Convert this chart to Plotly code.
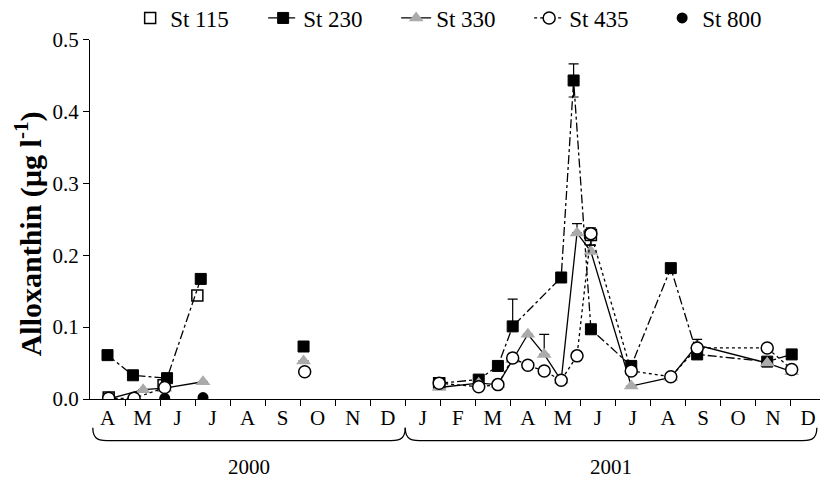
import calendar
import plotly.graph_objects as go

# ---------------- data ----------------
months = ["A", "M", "J", "J", "A", "S", "O", "N", "D",
          "J", "F", "M", "A", "M", "J", "J", "A", "S", "O", "N", "D"]
years = ["2000", "2001"]
y_ticks = [0.0, 0.1, 0.2, 0.3, 0.4, 0.5]
y_ticktext = ["0.0", "0.1", "0.2", "0.3", "0.4", "0.5"]

st115_dates = ["2000-04-17", "2000-06-04", "2000-07-03", "2001-01-31", "2001-06-10"]
st115_vals = [0.002, 0.019, 0.144, 0.022, 0.228]
st115_err_up = [0, 0, 0, 0, 0.008]
st115_err_dn = [0, 0, 0, 0, 0.014]

st230_dates = ["2000-04-16", "2000-05-08", "2000-06-07", "2000-07-06", "2000-10-04",
               "2001-01-31", "2001-03-04", "2001-03-21", "2001-04-03", "2001-05-15",
               "2001-05-26", "2001-06-10", "2001-07-15", "2001-08-19", "2001-09-11",
               "2001-11-11", "2001-12-02"]
st230_vals = [0.061, 0.033, 0.029, 0.167, 0.073,
              0.022, 0.027, 0.046, 0.101, 0.169,
              0.443, 0.097, 0.046, 0.182, 0.062,
              0.052, 0.062]
st230_err_up = [0, 0, 0, 0, 0, 0, 0, 0, 0.038, 0, 0.023, 0, 0, 0, 0, 0, 0]
st230_err_dn = [0, 0, 0, 0, 0, 0, 0, 0, 0, 0, 0.023, 0, 0, 0, 0, 0, 0]

st330_dates = ["2000-04-17", "2000-05-17", "2000-06-05", "2000-07-08", "2000-10-04",
               "2001-01-31", "2001-03-04", "2001-03-21", "2001-04-03", "2001-04-16",
               "2001-04-30", "2001-05-15", "2001-05-29", "2001-06-10", "2001-07-15",
               "2001-08-19", "2001-09-11", "2001-11-11", "2001-12-02"]
st330_vals = [0.000, 0.013, 0.015, 0.024, 0.053,
              0.016, 0.022, 0.020, 0.055, 0.090,
              0.062, 0.026, 0.231, 0.205, 0.018,
              0.030, 0.075, 0.050, 0.038]
st330_err_up = [0, 0, 0, 0, 0, 0, 0, 0, 0, 0, 0.028, 0, 0.013, 0, 0, 0, 0, 0, 0]
st330_err_dn = [0] * 19

st435_dates = ["2000-04-17", "2000-05-09", "2000-06-05", "2000-10-05",
               "2001-01-31", "2001-03-04", "2001-03-21", "2001-04-03", "2001-04-16",
               "2001-04-30", "2001-05-15", "2001-05-29", "2001-06-10", "2001-07-15",
               "2001-08-19", "2001-09-11", "2001-11-11", "2001-12-02"]
st435_vals = [0.001, 0.001, 0.016, 0.038,
              0.022, 0.017, 0.020, 0.057, 0.047,
              0.039, 0.026, 0.060, 0.230, 0.039,
              0.031, 0.071, 0.071, 0.041]
st435_err_up = [0, 0, 0, 0, 0, 0, 0, 0, 0, 0, 0, 0, 0.008, 0, 0, 0.012, 0, 0]
st435_err_dn = [0, 0, 0, 0, 0, 0, 0, 0, 0, 0, 0, 0, 0.016, 0, 0, 0, 0, 0]

st800_dates = ["2000-06-05", "2000-07-08"]
st800_vals = [0.001, 0.002]


# ---------------- helpers ----------------
def month_index(d):
    """Fractional months since 1 April 2000."""
    y, m, day = (int(p) for p in d.split("-"))
    ndays = calendar.monthrange(y, m)[1]
    return (y - 2000) * 12 + (m - 4) + (day - 1) / ndays


def with_breaks(dates, vals, up, dn, gap=2.5):
    xs, ys, us, ds = [], [], [], []
    prev = None
    for d, v, u, w in zip(dates, vals, up, dn):
        x = month_index(d)
        if prev is not None and x - prev > gap:
            xs.append(None); ys.append(None); us.append(0); ds.append(0)
        xs.append(x); ys.append(v); us.append(u); ds.append(w)
        prev = x
    return xs, ys, us, ds


SERIF = "Liberation Serif"
fig = go.Figure()


def add_station(name, dates, vals, up, dn, mode, dash, marker):
    xs, ys, us, ds = with_breaks(dates, vals, up, dn)
    fig.add_trace(go.Scatter(
        x=xs, y=ys, name=name, mode=mode,
        line=dict(color="black", width=1.3, dash=dash),
        marker=marker,
        error_y=dict(type="data", array=us, arrayminus=ds, symmetric=False,
                     color="black", thickness=1.2, width=5),
        connectgaps=False,
    ))


add_station("St 115", st115_dates, st115_vals, st115_err_up, st115_err_dn, "markers", "solid",
            dict(symbol="square", size=11, color="white", line=dict(color="black", width=1.5)))
add_station("St 230", st230_dates, st230_vals, st230_err_up, st230_err_dn, "lines+markers", "dashdot",
            dict(symbol="square", size=11, color="black", line=dict(color="black", width=1)))
add_station("St 330", st330_dates, st330_vals, st330_err_up, st330_err_dn, "lines+markers", "solid",
            dict(symbol="triangle-up", size=13, color="#ababab", line=dict(width=0)))
add_station("St 435", st435_dates, st435_vals, st435_err_up, st435_err_dn, "lines+markers", "dot",
            dict(symbol="circle", size=12, color="white", line=dict(color="black", width=1.5)))
add_station("St 800", st800_dates, st800_vals, [0, 0], [0, 0], "markers", "solid",
            dict(symbol="circle", size=11, color="black", line=dict(width=0)))

# ---------------- axes ----------------
centers = [i + 0.5 for i in range(len(months))]
fig.update_xaxes(
    range=[0, 20.84], tickmode="array", tickvals=centers, ticktext=months,
    ticks="", showline=True, linecolor="black", linewidth=1.2,
    showgrid=False, zeroline=False, automargin=False,
    tickfont=dict(family=SERIF, size=21, color="black"),
    minor=dict(tickmode="array", tickvals=list(range(1, len(months))),
               ticks="outside", ticklen=6, tickcolor="black", tickwidth=1.2, showgrid=False),
    ticklabelstandoff=0,
)
fig.update_yaxes(
    range=[0, 0.5], tickmode="array", tickvals=y_ticks, ticktext=y_ticktext,
    ticks="outside", ticklen=6, tickcolor="black", tickwidth=1.2,
    showline=True, linecolor="black", linewidth=1.2,
    showgrid=False, zeroline=False, automargin=False,
    tickfont=dict(family=SERIF, size=21, color="black"),
)

# ---------------- braces and year labels ----------------
ytop, ybot = -0.080, -0.116
brace_spans = [(0.08, 9.0), (9.0, 20.75)]
for (a, b), yr in zip(brace_spans, years):
    path = (f"M {a},{ytop} C {a},{ybot} {a + 0.2},{ybot} {a + 0.55},{ybot} "
            f"L {b - 0.55},{ybot} C {b - 0.2},{ybot} {b},{ybot} {b},{ytop}")
    fig.add_shape(type="path", path=path, xref="x", yref="paper",
                  line=dict(color="black", width=1.3))
    fig.add_annotation(x=(a + b) / 2, y=-0.188, xref="x", yref="paper",
                       text=yr, showarrow=False, yanchor="middle",
                       font=dict(family=SERIF, size=21, color="black"))

fig.add_annotation(
    x=-0.084, y=(399 - 233) / 361, xref="paper", yref="paper",
    text="<b>Alloxanthin (µg l<sup>-1</sup>)</b>", textangle=-90, showarrow=False,
    xanchor="center", yanchor="middle",
    font=dict(family=SERIF, size=30, color="black"),
)

fig.update_layout(
    width=820, height=481,
    margin=dict(l=89.5, r=0, t=38, b=82),
    paper_bgcolor="white", plot_bgcolor="white",
    legend=dict(orientation="h", x=0.055, xref="paper",
                y=1 - 18 / 481, yref="container", xanchor="left", yanchor="middle",
                font=dict(family=SERIF, size=23, color="black"),
                bgcolor="rgba(0,0,0,0)", entrywidth=88, entrywidthmode="pixels",
                tracegroupgap=0),
)

fig.write_html("out.html", config={"displayModeBar": False},
               post_script="document.body.style.margin='0';")
